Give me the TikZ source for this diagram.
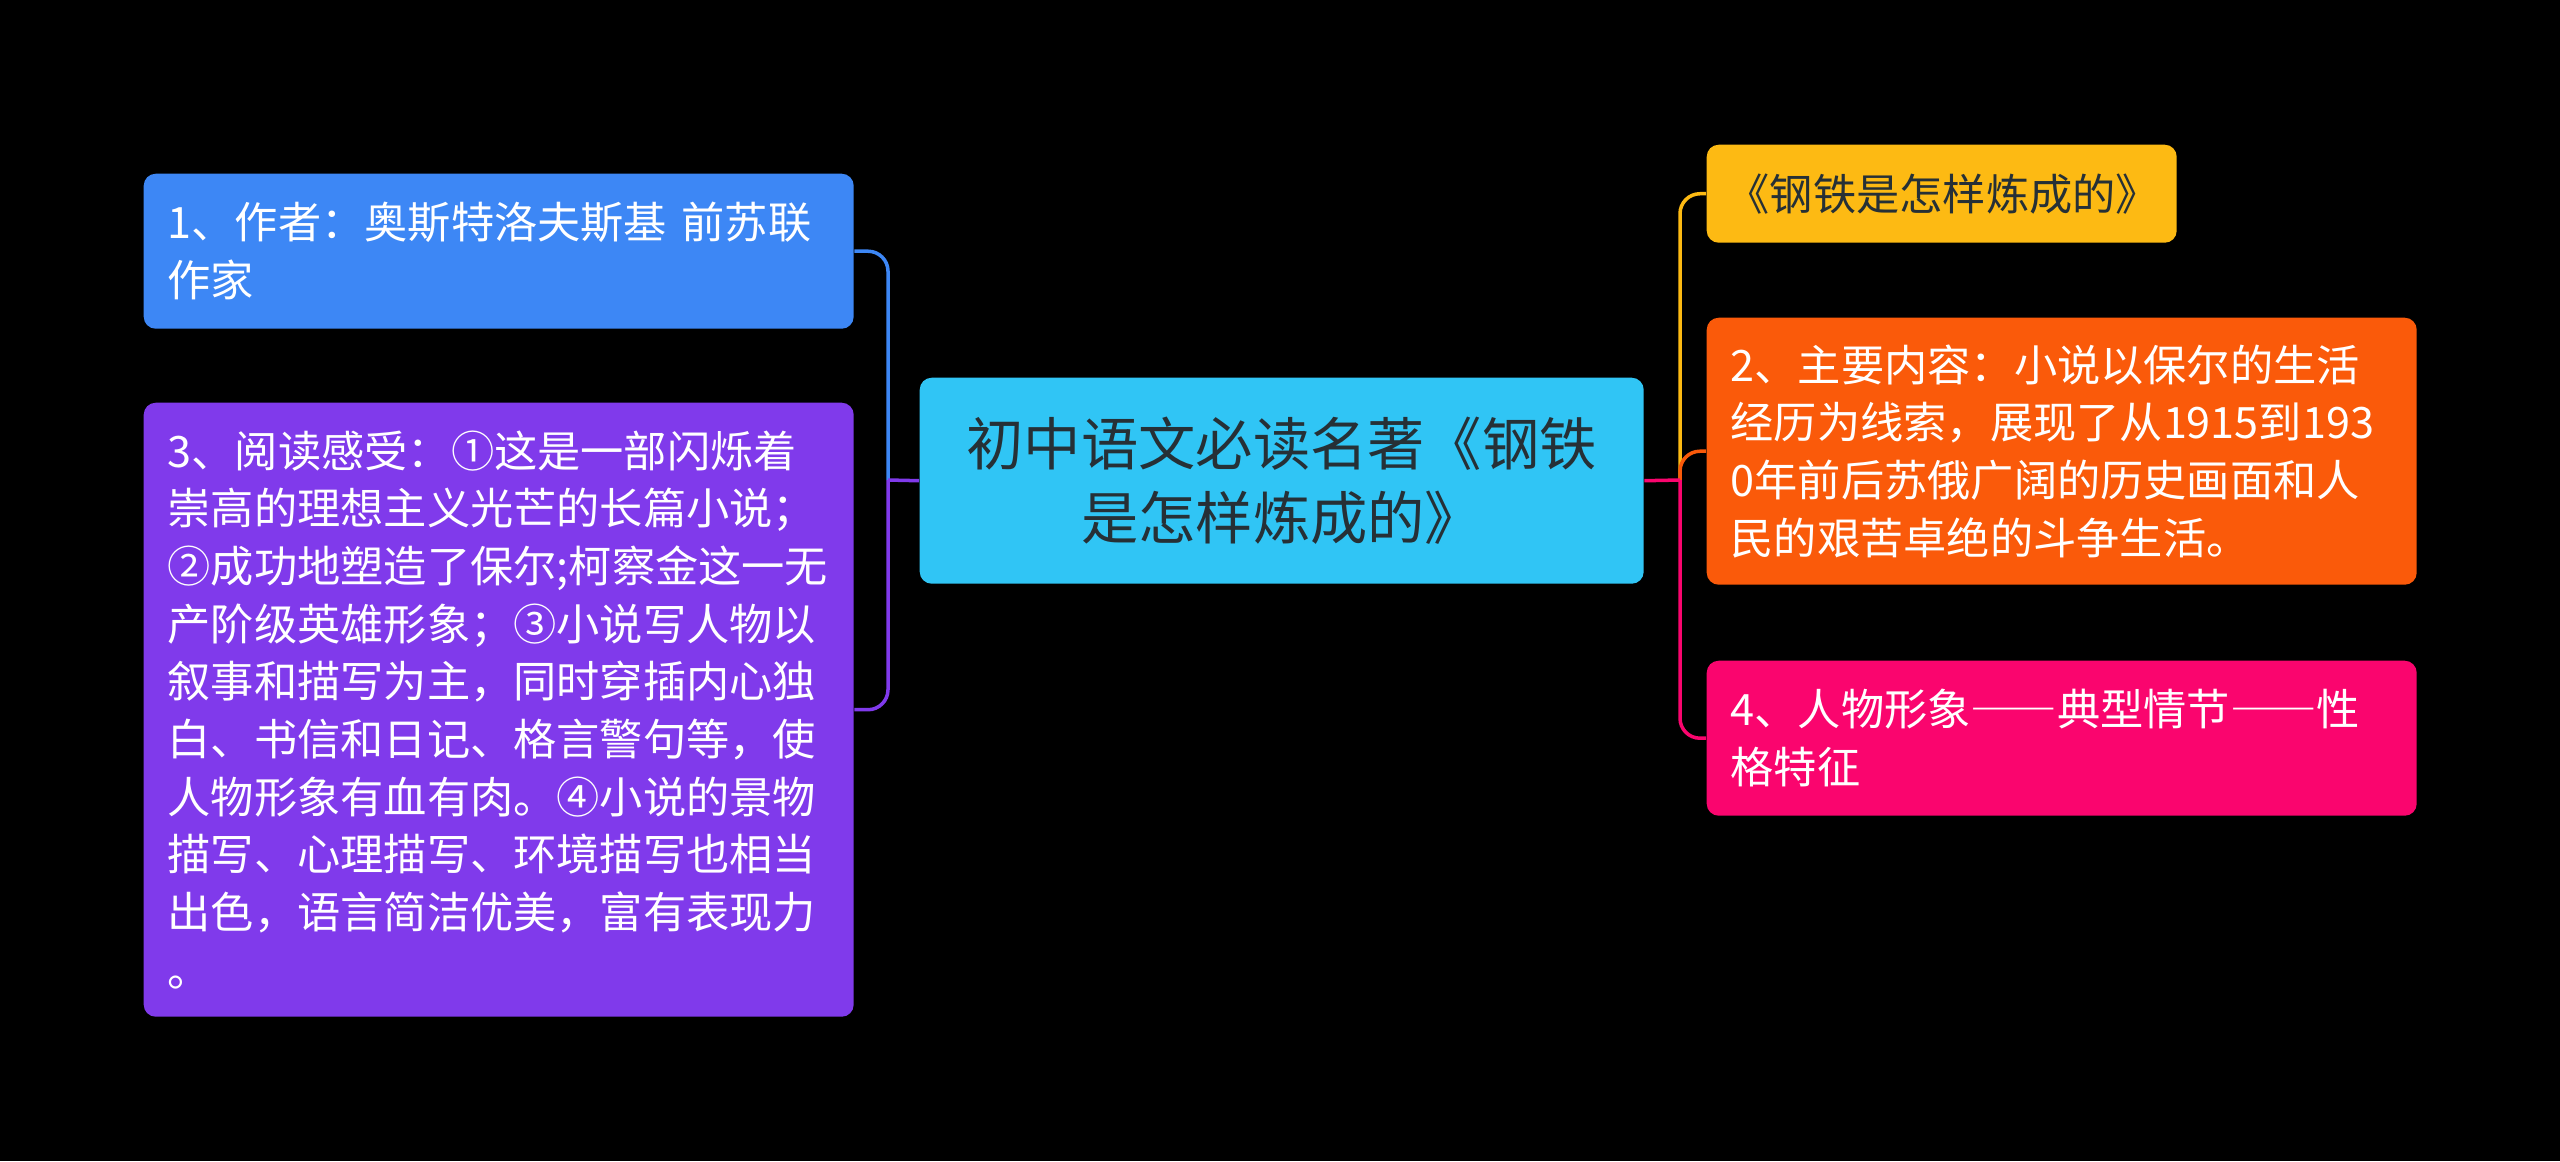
\documentclass[tikz,border=0pt]{standalone}
\usepackage{fontspec}
\newfontfamily\cjkfont{Noto Sans CJK SC}
\usepackage{tikz}
\usetikzlibrary{shapes}
\usetikzlibrary{arrows}
\definecolor{c_blue}{HTML}{3D87F5}
\definecolor{c_purple}{HTML}{803AEB}
\definecolor{c_cyan}{HTML}{30C5F5}
\definecolor{c_yellow}{HTML}{FDBA13}
\definecolor{c_orange}{HTML}{FA5A0A}
\definecolor{c_pink}{HTML}{FA056E}
\definecolor{c_ink}{HTML}{263036}
\newcommand{\longdash}{{\addfontfeatures{RawFeature=+fwid}——}}
\tikzset{
  mapnode/.style = {rectangle, rounded corners=1.2mm, inner ysep=0pt,
    anchor=north west, font=\cjkfont\fontsize{12.3pt}{16.4pt}\selectfont},
  leaf_node/.style = {mapnode, white, align=left, inner xsep=2.4mm,
    text width=66.2mm},% branches blanches
  root_node/.style = {mapnode, c_ink, fill=c_cyan, align=center,
    minimum width=72.4mm, minimum height=20.6mm,
    font=\cjkfont\fontsize{16.3pt}{21.3pt}\selectfont},% sujet central
  title_node/.style = {mapnode, c_ink, fill=c_yellow, align=left,
    inner xsep=2mm, text width=43mm, minimum height=9.8mm},% titre
  link/.style = {line width=1pt, rounded corners=2mm}% connecteur
}
\begin{document}
\begin{tikzpicture}[x=0.1mm, y=-0.1mm]
  \fill[black] (0,0) rectangle (2560,1161);
  \useasboundingbox (0,0) rectangle (2560,1161);
  % left side
  \node [leaf_node, fill=c_blue, minimum height=15.5mm] (author) at (143,173)
    {1、作者：奥斯特洛夫斯基 前苏联\\作家};
  \node [leaf_node, fill=c_purple, minimum height=61.4mm] (feeling) at (143,402)
    {3、阅读感受：①这是一部闪烁着\\崇高的理想主义光芒的长篇小说；\\②成功地塑造了保尔;柯察金这一无\\产阶级英雄形象；③小说写人物以\\叙事和描写为主，同时穿插内心独\\白、书信和日记、格言警句等，使\\人物形象有血有肉。④小说的景物\\描写、心理描写、环境描写也相当\\出色，语言简洁优美，富有表现力\\。};
  \node [root_node] (root) at (919,377)
    {初中语文必读名著《钢铁\\是怎样炼成的》};
  % right side
  \node [title_node] (title) at (1706,144) {《钢铁是怎样炼成的》};
  \node [leaf_node, fill=c_orange, minimum height=26.7mm] (content) at (1706,317)
    {2、主要内容：小说以保尔的生活\\经历为线索，展现了从1915到193\\0年前后苏俄广阔的历史画面和人\\民的艰苦卓绝的斗争生活。};
  \node [leaf_node, fill=c_pink, minimum height=15.5mm] (figure) at (1706,660)
    {4、人物形象\longdash 典型情节\longdash 性\\格特征};

  \coordinate (hub_l) at (888,480);
  \coordinate (hub_r) at (1680,480);
  \draw [link, c_blue] (hub_l) |- (author.east);
  \draw [link, c_purple] (hub_l) |- (feeling.east);
  \draw [link, c_purple] (root.west) -- (hub_l);
  \draw [link, c_yellow] (hub_r) |- (title.west);
  \draw [link, c_orange] (hub_r) |- (content.west);
  \draw [link, c_pink] (hub_r) |- (figure.west);
  \draw [link, c_pink] (root.east) -- (hub_r);
\end{tikzpicture}
\end{document}
